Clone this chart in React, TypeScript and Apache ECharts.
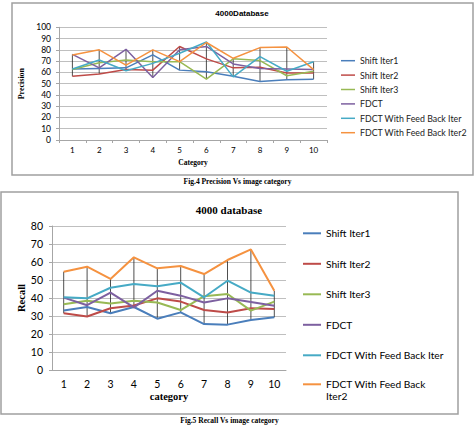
import React, { useEffect, useRef } from "react";
import * as echarts from "echarts";

const categories = ["1", "2", "3", "4", "5", "6", "7", "8", "9", "10"];
const seriesNames = [
  "Shift Iter1",
  "Shift Iter2",
  "Shift Iter3",
  "FDCT",
  "FDCT With Feed Back Iter",
  "FDCT With Feed Back Iter2",
];
const colors = ["#4A7EBB", "#BE4B48", "#98B954", "#7D60A0", "#46AAC5", "#F59240"];

// Fig.4 Precision
const precShift1 = [63, 63.5, 64, 75.5, 62, 60.5, 56.5, 52, 53.5, 54];
const precShift2 = [56.5, 58.5, 62.5, 62, 83, 72, 64, 64.5, 59.5, 59.5];
const precShift3 = [62.5, 68.5, 71, 69.5, 69.5, 54, 72, 70.5, 57, 61];
const precFdct = [76, 64, 80.5, 55.5, 80, 83, 67.5, 63.5, 63, 62.5];
const precFb1 = [63, 71, 61.5, 68, 77, 87, 56, 74, 61, 69.5];
const precFb2 = [75.5, 80, 66.5, 80, 69.5, 86.5, 72.5, 82, 82.5, 62.5];

// Fig.5 Recall
const recShift1 = [33, 35, 31.5, 35, 28.5, 32, 25.5, 25.2, 27.8, 29.3];
const recShift2 = [31.5, 29.7, 34.3, 35.8, 39.8, 38, 33.3, 31.9, 34.3, 33.9];
const recShift3 = [36.5, 38.5, 37, 38.5, 37.5, 33.3, 41, 42.2, 33, 38];
const recFdct = [40.2, 36, 43, 34.8, 44, 41.3, 37.5, 39.8, 37.8, 35.7];
const recFb1 = [40.4, 39.8, 45.7, 47.8, 46.5, 48.5, 40.4, 49.6, 43, 41.2];
const recFb2 = [54.6, 57.4, 50.6, 62.6, 56.5, 57.8, 53.3, 61.1, 67, 44];

const precData = [precShift1, precShift2, precShift3, precFdct, precFb1, precFb2];
const recData = [recShift1, recShift2, recShift3, recFdct, recFb1, recFb2];

const SERIF = "'Liberation Serif', serif";
const SANS = "Lato, 'Liberation Sans', sans-serif";

function highLow(data: number[][]) {
  return categories.map((_, i) => {
    const vals = data.map((s) => s[i]);
    return [i, Math.min(...vals), Math.max(...vals)];
  });
}

function hlRender(params: any, api: any) {
  const p1 = api.coord([api.value(0), api.value(1)]);
  const p2 = api.coord([api.value(0), api.value(2)]);
  return {
    type: "line",
    shape: { x1: p1[0], y1: p1[1], x2: p2[0], y2: p2[1] },
    style: { stroke: "#222", lineWidth: 0.8 },
  };
}

export default function App() {
  const ref = useRef<HTMLDivElement>(null);
  useEffect(() => {
    if (!ref.current) return;
    const chart = echarts.init(ref.current, undefined, { renderer: "svg" });
    const gridLine = { show: true, lineStyle: { color: "#BFBFBF", width: 1 } };
    const axisLine = { show: true, lineStyle: { color: "#A6A6A6", width: 1 } };
    const series: any[] = [];
    precData.forEach((d, k) => {
      series.push({
        type: "line",
        name: seriesNames[k],
        data: d,
        xAxisIndex: 0,
        yAxisIndex: 0,
        symbol: "none",
        lineStyle: { width: 1.5, color: colors[k] },
        itemStyle: { color: colors[k] },
        z: 3,
      });
    });
    recData.forEach((d, k) => {
      series.push({
        type: "line",
        name: seriesNames[k],
        data: d,
        xAxisIndex: 1,
        yAxisIndex: 1,
        symbol: "none",
        lineStyle: { width: 2, color: colors[k] },
        itemStyle: { color: colors[k] },
        z: 3,
      });
    });
    series.push({
      type: "custom",
      name: "hl1",
      xAxisIndex: 0,
      yAxisIndex: 0,
      data: highLow(precData),
      renderItem: hlRender,
      z: 2,
      silent: true,
    });
    series.push({
      type: "custom",
      name: "hl2",
      xAxisIndex: 1,
      yAxisIndex: 1,
      data: highLow(recData),
      renderItem: hlRender,
      z: 2,
      silent: true,
    });

    const legend2Text = { fontFamily: SANS, fontSize: 10.2, lineHeight: 12, color: "#000" };

    chart.setOption({
      animation: false,
      backgroundColor: "#fff",
      color: colors,
      title: [
        {
          text: "4000Database",
          left: 242,
          top: 9,
          textAlign: "center",
          textStyle: { fontFamily: "'Liberation Sans', sans-serif", fontSize: 8, fontWeight: "bold", color: "#000" },
          padding: 0,
        },
        {
          text: "4000 database",
          left: 229,
          top: 204,
          textAlign: "center",
          textStyle: { fontFamily: SERIF, fontSize: 11, fontWeight: "bold", color: "#000" },
          padding: 0,
        },
      ],
      grid: [
        { left: 59, top: 27.3, width: 268, height: 112.7 },
        { left: 52, top: 226, width: 234, height: 144 },
      ],
      xAxis: [
        {
          gridIndex: 0,
          type: "category",
          data: categories,
          boundaryGap: true,
          axisLine,
          axisTick: { show: true, length: 3, lineStyle: { color: "#A6A6A6" } },
          axisLabel: { fontFamily: SANS, fontSize: 8, color: "#000", margin: 6 },
          name: "Category",
          nameLocation: "middle",
          nameGap: 18,
          nameTextStyle: { fontFamily: SERIF, fontSize: 7.5, fontWeight: "bold", color: "#000" },
        },
        {
          gridIndex: 1,
          type: "category",
          data: categories,
          boundaryGap: true,
          axisLine,
          axisTick: { show: false },
          axisLabel: { fontFamily: SANS, fontSize: 10.5, color: "#000", margin: 8 },
          name: "category",
          nameLocation: "middle",
          nameGap: 21,
          nameTextStyle: { fontFamily: SERIF, fontSize: 10.5, fontWeight: "bold", color: "#000" },
        },
      ],
      yAxis: [
        {
          gridIndex: 0,
          type: "value",
          min: 0,
          max: 100,
          interval: 10,
          axisLine,
          axisTick: { show: true, length: 3, lineStyle: { color: "#A6A6A6" } },
          splitLine: gridLine,
          axisLabel: { fontFamily: SANS, fontSize: 8.5, color: "#000", margin: 8 },
          name: "Precision",
          nameLocation: "middle",
          nameGap: 24,
          nameTextStyle: { fontFamily: SERIF, fontSize: 8, fontWeight: "bold", color: "#000" },
        },
        {
          gridIndex: 1,
          type: "value",
          min: 0,
          max: 80,
          interval: 10,
          axisLine,
          axisTick: { show: true, length: 3, lineStyle: { color: "#A6A6A6" } },
          splitLine: gridLine,
          axisLabel: { fontFamily: SANS, fontSize: 10.5, color: "#000", margin: 9 },
          name: "Recall",
          nameLocation: "middle",
          nameGap: 25,
          nameTextStyle: { fontFamily: SERIF, fontSize: 10.5, fontWeight: "bold", color: "#000" },
        },
      ],
      legend: [
        {
          data: seriesNames,
          orient: "vertical",
          left: 341,
          top: 55.7,
          padding: 0,
          icon: "rect",
          itemWidth: 14,
          itemHeight: 1.5,
          itemGap: 4.4,
          selectedMode: false,
          textStyle: { fontFamily: SANS, fontSize: 8.8, lineHeight: 10, color: "#222" },
        },
        {
          data: seriesNames.slice(0, 5),
          orient: "vertical",
          left: 303,
          top: 227.3,
          padding: 0,
          icon: "rect",
          itemWidth: 18,
          itemHeight: 2,
          itemGap: 18.5,
          selectedMode: false,
          textStyle: legend2Text,
        },
        {
          data: [seriesNames[5]],
          orient: "vertical",
          left: 303,
          top: 366.3,
          padding: 0,
          icon: "rect",
          itemWidth: 18,
          itemHeight: 2,
          selectedMode: false,
          formatter: () => " \nFDCT With Feed Back\nIter2",
          textStyle: legend2Text,
        },
      ],
      graphic: [
        {
          type: "rect",
          shape: { x: 12, y: 3, width: 461, height: 172 },
          style: { fill: "none", stroke: "#A0A0A0", lineWidth: 1.5 },
          z: -1,
        },
        {
          type: "rect",
          shape: { x: 1, y: 192, width: 457, height: 222 },
          style: { fill: "none", stroke: "#A0A0A0", lineWidth: 1.5 },
          z: -1,
        },
        {
          type: "text",
          x: 237.5,
          y: 181,
          style: {
            text: "Fig.4 Precision Vs image category",
            fontFamily: SERIF,
            fontSize: 7.5,
            fontWeight: "bold",
            fill: "#000",
            align: "center",
            verticalAlign: "middle",
          },
        },
        {
          type: "text",
          x: 229.5,
          y: 420,
          style: {
            text: "Fig.5 Recall Vs image category",
            fontFamily: SERIF,
            fontSize: 7.5,
            fontWeight: "bold",
            fill: "#000",
            align: "center",
            verticalAlign: "middle",
          },
        },
      ],
      series,
    });
    return () => chart.dispose();
  }, []);
  return (
    <div
      ref={ref}
      style={{ position: "absolute", left: 0, top: 0, width: 476, height: 427, background: "#fff" }}
    />
  );
}
